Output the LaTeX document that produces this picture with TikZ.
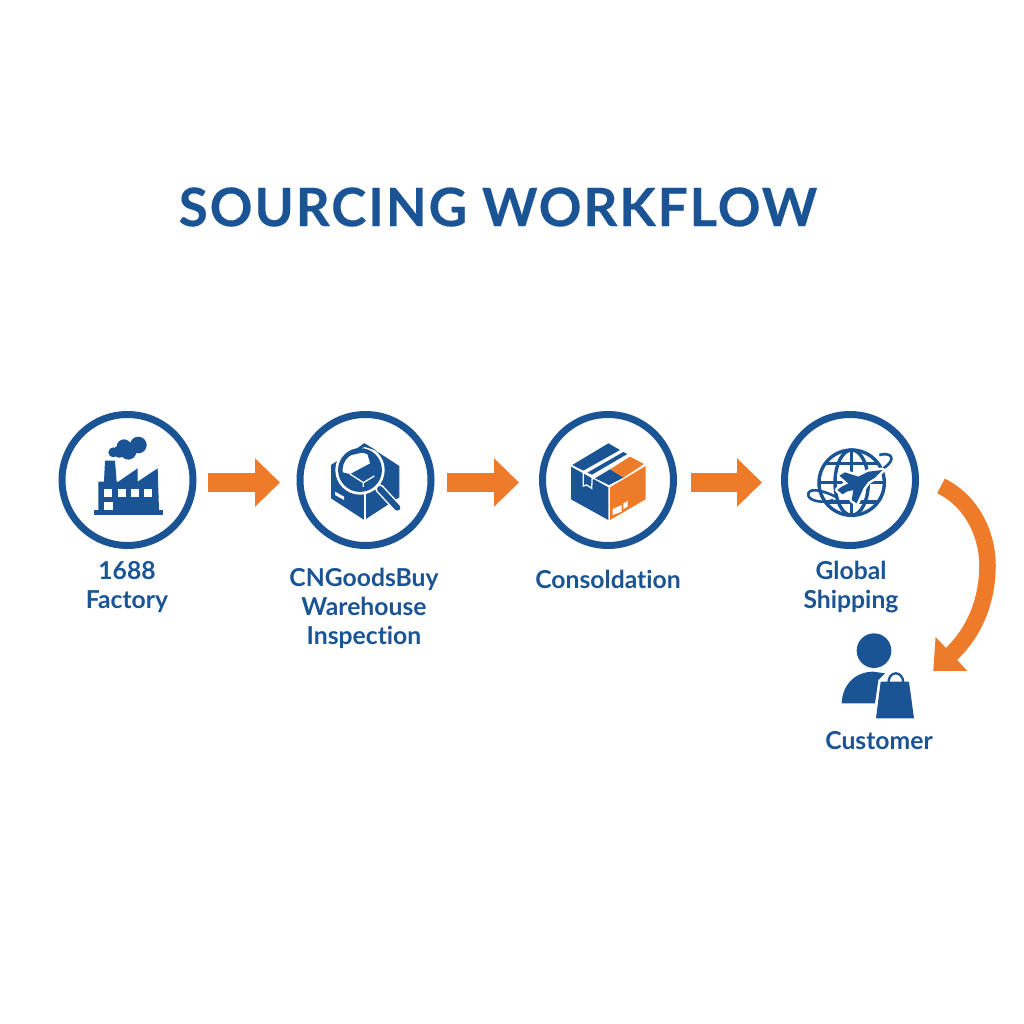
\documentclass[tikz,border=0pt]{standalone}
\usepackage{fontspec}
\setmainfont{Lato}[Ligatures=NoCommon]
\usetikzlibrary{arrows.meta}
\definecolor{flowblue}{HTML}{1A5494}
\definecolor{floworange}{HTML}{ED7B2A}
\tikzset{
  stepcircle/.style={circle, minimum size=131pt, inner sep=0pt, draw=flowblue, line width=7pt, fill=white},
  steplabel/.style={align=center, text=flowblue, font=\fontsize{24.7}{29}\selectfont\bfseries},
  flowarrow/.style={draw=floworange, line width=19pt, -{Triangle[length=25pt, width=47pt]}},
  flowcurve/.style={draw=floworange, line width=16.5pt, -{Triangle[length=25pt, width=45pt]}},
  iconblue/.style={fill=flowblue, draw=none},
  iconorange/.style={fill=floworange, draw=none},
  iconwhite/.style={fill=white, draw=none},
  iconline/.style={draw=flowblue, line width=3.4pt, fill=none},
}
\begin{document}
\begin{tikzpicture}[x=1pt, y=-1pt]
  \useasboundingbox (0,0) rectangle (1024,1024);

  \node[text=flowblue, font=\fontsize{53}{60}\selectfont\bfseries\addfontfeature{LetterSpace=3.6, FakeBold=0.3}] (title) at (498,207) {SOURCING WORKFLOW};

  \node[stepcircle] (factory) at (127.5,480) {};
  \node[stepcircle] (warehouse) at (365.5,480) {};
  \node[stepcircle] (consolidation) at (608,480) {};
  \node[stepcircle] (shipping) at (850,480) {};
  \node[minimum width=72pt, minimum height=84pt, inner sep=0pt] (customer) at (878,676) {};

  \node[steplabel] (factorytext) at (127,587) {1688\\Factory};
  \node[steplabel] (warehousetext) at (364,608) {CNGoodsBuy\\Warehouse\\Inspection};
  \node[steplabel] (consolidationtext) at (608,579) {Consoldation};
  \node[steplabel] (shippingtext) at (851,587) {Global\\Shipping};
  \node[steplabel] (customertext) at (879,741) {Customer};

  \draw[flowarrow, shorten <=11.5pt, shorten >=16.5pt] ([yshift=-2.5pt]factory.east) -- ([yshift=-2.5pt]warehouse.west);
  \draw[flowarrow, shorten <=12.5pt, shorten >=20pt] ([yshift=-2.5pt]warehouse.east) -- ([yshift=-2.5pt]consolidation.west);
  \draw[flowarrow, shorten <=14pt, shorten >=19pt] ([yshift=-2.5pt]consolidation.east) -- ([yshift=-2.5pt]shipping.west);
  \draw[flowcurve] ([xshift=22pt, yshift=-6pt]shipping.east) .. controls (972,501) and (987.5,535) .. (987.5,565) .. controls (987.5,600) and (975,632) .. ([xshift=19pt, yshift=5pt]customer.east);

  % factory
  \begin{scope}[shift={(50,400)}, x=0.3333pt, y=-0.3333pt]
    \fill[iconblue] (265,135) circle (25) (222,140) circle (22) (190,157) circle (15) (235,155) circle (24) (208,155) circle (18);
    \fill[iconblue] (145,330) -- (145,245) -- (162,245) -- (165,182) -- (195,182) -- (200,245) -- (205,245) -- (263,205) -- (263,245) -- (323,205) -- (327,330) -- cycle;
    \fill[iconblue] (132,330) rectangle (338,345);
    \foreach \wx in {163,203,242,282}
      \fill[iconwhite] (\wx,268) rectangle (\wx+24,290);
    \fill[iconwhite] (163,305) rectangle (190,330);
  \end{scope}

  % box under the lens
  \begin{scope}[shift={(320,435)}, x=0.3333pt, y=-0.3333pt]
    \fill[iconblue] (133,25) -- (238,93) -- (238,187) -- (133,255) -- (33,190) -- (33,90) -- cycle;
    \draw[white, line width=1.5pt] (135,150) -- (135,255);
    \fill[iconwhite] (45,170) -- (72,185) -- (72,195) -- (45,180) -- cycle;
    \fill[iconwhite] (120,105) circle (74);
    \fill[iconblue] (102,46) -- (133,25) -- (170,47) -- (135,36) -- cycle;
    \fill[iconblue] (120,105) circle (59);
    \fill[iconwhite] (90,117) -- (150,85) -- (140,50) -- (75,65) -- (60,110) -- cycle;
    \draw[white, line width=1.3pt] (90,117) -- (130,143) -- (163,123) (130,143) -- (130,165);
    \draw[flowblue, line width=4.5pt] (120,105) circle (59);
    \draw[white, line width=9pt, line cap=round] (178,160) -- (232,218);
    \draw[flowblue, line width=6pt, line cap=round] (180,162) -- (232,218);
  \end{scope}

  % parcel
  \begin{scope}[shift={(530,400)}, x=0.3333pt, y=-0.3333pt]
    \fill[iconblue] (123,200) -- (235,262) -- (235,360) -- (123,298) -- cycle;
    \fill[iconorange] (240,262) -- (347,198) -- (347,298) -- (240,360) -- cycle;
    \fill[iconblue] (127,195) -- (235,130) -- (270,150) -- (160,212) -- cycle;
    \fill[iconblue] (172,218) -- (280,156) -- (292,162) -- (186,224) -- cycle;
    \fill[iconorange] (240,208) -- (300,170) -- (342,192) -- (280,233) -- cycle;
    \fill[iconblue] (195,235) -- (240,208) -- (280,233) -- (237,255) -- cycle;
    \draw[white, line width=1.3pt] (160,212) -- (160,258) -- (170,255) -- (185,265) -- (187,226);
    \fill[iconwhite] (248,327) -- (275,315) -- (275,335) -- (248,345) -- cycle;
    \fill[iconwhite] (280,310) -- (293,303) -- (293,320) -- (280,327) -- cycle;
  \end{scope}

  % globe and plane
  \begin{scope}[shift={(800,435)}, x=0.3333pt, y=-0.3333pt]
    \draw[iconline] (155,143) circle (98);
    \draw[iconline] (155,143) ellipse (50 and 98);
    \draw[iconline] (155,45) -- (155,241);
    \draw[iconline] (57,143) -- (253,143);
    \draw[iconline] (78,85) -- (232,85);
    \draw[iconline] (78,201) -- (232,201);
    \draw[iconline, line width=2.6pt] (238,60) .. controls (270,50) and (295,70) .. (250,100);
    \draw[iconline, line width=2.6pt] (112,188) .. controls (70,165) and (20,155) .. (25,182) .. controls (30,200) and (75,205) .. (100,195);
    \draw[white, fill=white, line width=5pt, line join=round] (248,105) -- (225,128) -- (205,140) -- (190,160) -- (170,205) -- (155,195) -- (160,165) -- (140,170) -- (128,178) -- (112,165) -- (125,155) -- (145,145) -- (118,122) -- (135,112) -- (175,125) -- (205,110) -- cycle;
    \fill[iconblue] (248,105) -- (225,128) -- (205,140) -- (190,160) -- (170,205) -- (155,195) -- (160,165) -- (140,170) -- (128,178) -- (112,165) -- (125,155) -- (145,145) -- (118,122) -- (135,112) -- (175,125) -- (205,110) -- cycle;
  \end{scope}

  % person with bag
  \begin{scope}[shift={(810,620)}, x=0.3333pt, y=-0.3333pt]
    \fill[iconblue] (192,92) circle (52);
    \fill[iconblue] (95,250) .. controls (97,195) and (135,155) .. (190,155) -- (225,160) -- (205,180) -- (195,250) -- cycle;
    \draw[flowblue, line width=2.3pt] (235,190) .. controls (235,150) and (280,150) .. (280,190);
    \fill[iconblue] (212,185) -- (297,185) -- (312,295) -- (198,295) -- cycle;
  \end{scope}
\end{tikzpicture}
\end{document}
